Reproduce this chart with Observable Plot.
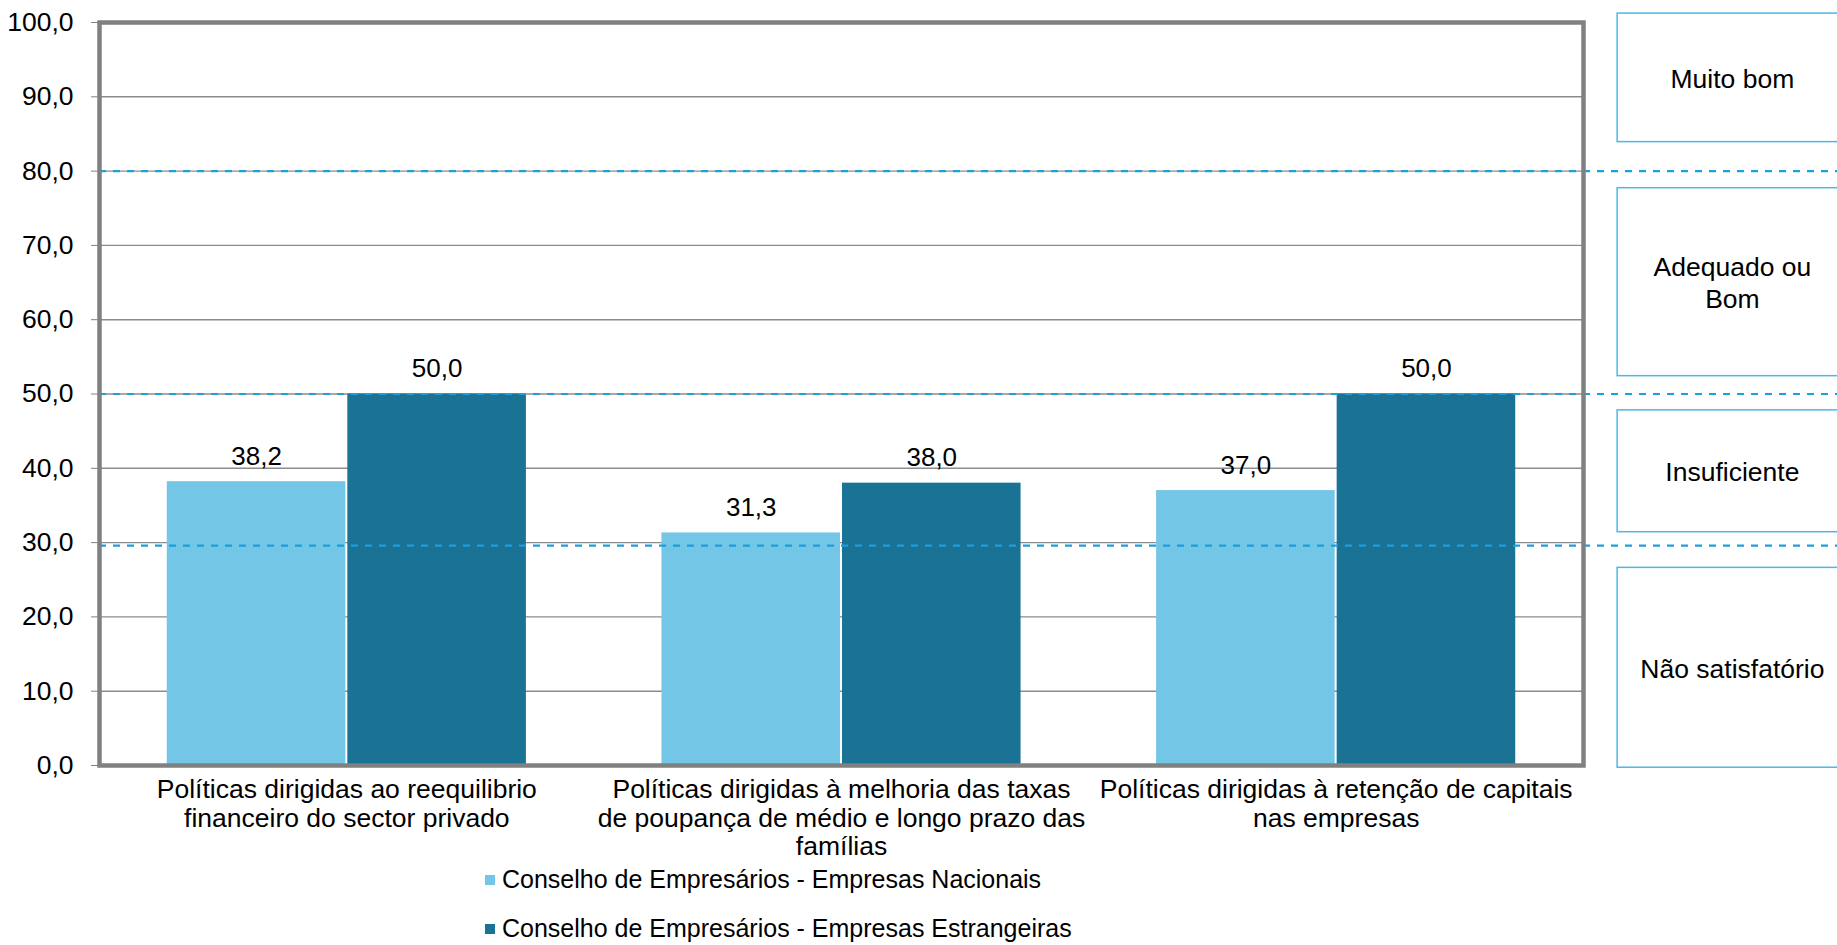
<!DOCTYPE html>
<html>
<head>
<meta charset="utf-8">
<script src="https://cdn.jsdelivr.net/npm/d3@7"></script>
<script src="https://cdn.jsdelivr.net/npm/@observablehq/plot@0.6"></script>
<style>
  html, body { margin: 0; padding: 0; background: #fff; }
  body { font-family: "Liberation Sans", Arial, sans-serif; width: 1837px; overflow: hidden; }
  #legend { position: relative; height: 83px; font-size: 25px; color: #000; }
  .item { position: absolute; left: 485px; display: flex; align-items: center; line-height: 1; }
  .sw { width: 10px; height: 10px; margin-right: 7px; }
</style>
</head>
<body>
<div id="chart"></div>
<div id="legend"></div>
<script>
const categories = [
  "Políticas dirigidas ao reequilibrio\nfinanceiro do sector privado",
  "Políticas dirigidas à melhoria das taxas\nde poupança de médio e longo prazo das\nfamílias",
  "Políticas dirigidas à retenção de capitais\nnas empresas"
];
const seriesNames = [
  "Conselho de Empresários - Empresas Nacionais",
  "Conselho de Empresários - Empresas Estrangeiras"
];
const nacionais = [38.2, 31.3, 37.0];
const estrangeiras = [50.0, 38.0, 50.0];
const seriesColors = ["#73c6e6", "#1a7294"];
const yTicks = [0, 10, 20, 30, 40, 50, 60, 70, 80, 90, 100];
const thresholds = [29.6, 50, 80];
const ratingLabels = ["Muito bom", "Adequado ou\nBom", "Insuficiente", "Não satisfatório"];
const ratingTop = [101.2, 77.7, 47.8, 26.6];
const ratingBottom = [83.9, 52.4, 31.4, -0.3];

const barW = 0.363, gap = 0.002;
const rows = categories.flatMap((c, i) => [
  {i, s: 0, v: nacionais[i], x1: i - barW, x2: i - gap},
  {i, s: 1, v: estrangeiras[i], x1: i + gap, x2: i + barW}
]);
const bands = ratingLabels.map((label, k) => ({label, top: ratingTop[k], bottom: ratingBottom[k]}));
const fmt = v => v.toFixed(1).replace(".", ",");

const H = 862;
const chart = Plot.plot({
  width: 1837,
  height: H,
  marginLeft: 99,
  marginRight: 254,
  marginTop: 22,
  marginBottom: H - 765,
  style: {fontFamily: "'Liberation Sans', Arial, sans-serif", fontSize: "26px", color: "#000", background: "#fff", overflow: "hidden"},
  x: {type: "linear", domain: [-0.5, 2.5]},
  y: {domain: [0, 100]},
  marks: [
    Plot.ruleY(yTicks.filter(t => t > 0 && t < 100), {stroke: "#8c8c8c", strokeWidth: 1.4}),
    Plot.rect(rows, {x1: "x1", x2: "x2", y1: 0, y2: "v", fill: d => seriesColors[d.s]}),
    Plot.ruleY(thresholds, {x1: -0.5, x2: 3.2, stroke: "#1a9fe0", strokeWidth: 2.2, strokeDasharray: "7,7"}),
    Plot.frame({stroke: "#808080", strokeWidth: 4.5}),
    Plot.axisY({ticks: yTicks, tickFormat: fmt, tickSize: 8, tickPadding: 18, stroke: "#808080", fill: "#000", fontSize: 26.5, label: null}),
    Plot.axisX({ticks: [0, 1, 2], tickFormat: i => categories[i], tickSize: 0, tickPadding: 13, fill: "#000", fontSize: 26.5, lineHeight: 1.06, label: null}),
    Plot.text(rows, {x: d => (d.x1 + d.x2) / 2, y: "v", text: d => fmt(d.v), dy: -25, fontSize: 26, fill: "#000"}),
    Plot.rect(bands, {x1: 2.569, x2: 3.2, y1: "bottom", y2: "top", fill: "#fff", stroke: "#4db8e8", strokeWidth: 1.5}),
    Plot.text(bands, {x: 2.801, y: d => (d.top + d.bottom) / 2, text: "label", fontSize: 26.5, lineHeight: 1.2, fill: "#000"})
  ]
});
document.getElementById("chart").appendChild(chart);

const legend = document.getElementById("legend");
seriesNames.forEach((name, k) => {
  const item = document.createElement("div");
  item.className = "item";
  item.style.top = (18 + k * 49 - 13) + "px";
  const sw = document.createElement("span");
  sw.className = "sw";
  sw.style.background = seriesColors[k];
  const t = document.createElement("span");
  t.textContent = name;
  item.appendChild(sw);
  item.appendChild(t);
  legend.appendChild(item);
});
</script>
</body>
</html>
